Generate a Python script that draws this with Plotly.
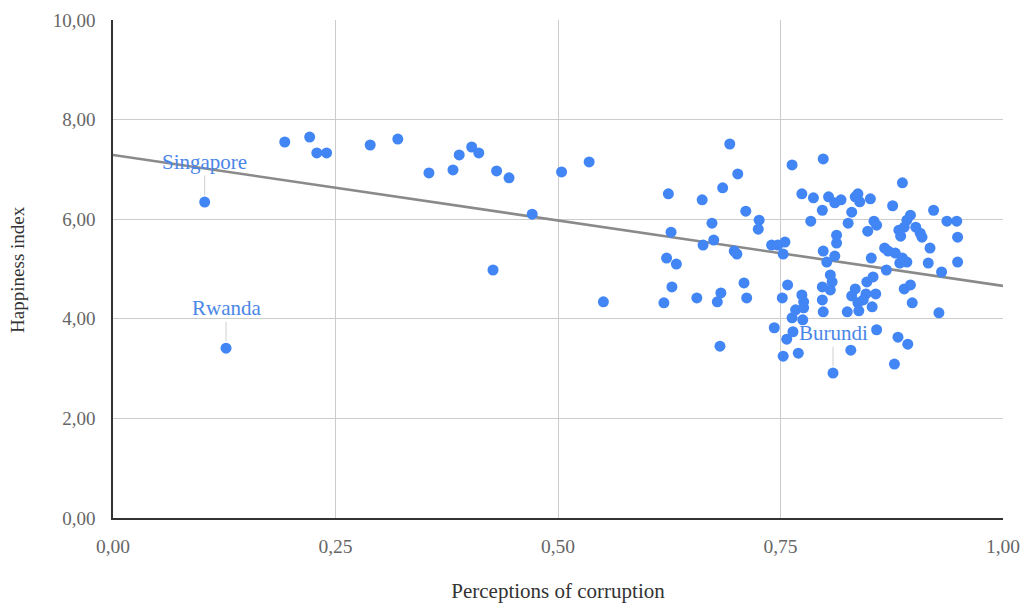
import plotly.graph_objects as go

# Perceptions of corruption (x) and happiness index (y)
corruption = [
    0.103, 0.127, 0.193, 0.221, 0.229, 0.240, 0.289, 0.320, 0.355, 0.382,
    0.389, 0.403, 0.411, 0.431, 0.445, 0.427, 0.471, 0.504, 0.535, 0.551,
    0.693, 0.702, 0.685, 0.624, 0.662, 0.711, 0.726, 0.725, 0.673, 0.627,
    0.675, 0.663, 0.698, 0.701, 0.622, 0.633, 0.709, 0.628, 0.619, 0.656,
    0.683, 0.679, 0.712, 0.743, 0.682,
    0.763, 0.798, 0.887, 0.774, 0.787, 0.804, 0.811, 0.818, 0.834, 0.837,
    0.839, 0.851, 0.797, 0.830, 0.826, 0.876, 0.896, 0.922, 0.784, 0.855,
    0.858, 0.848, 0.892, 0.889, 0.883, 0.885, 0.902, 0.907, 0.909, 0.937,
    0.948, 0.949, 0.813, 0.813, 0.740, 0.747, 0.755, 0.753, 0.798, 0.811,
    0.802, 0.852, 0.867, 0.871, 0.879, 0.887, 0.892, 0.884, 0.918, 0.916,
    0.931, 0.949, 0.869, 0.758, 0.752, 0.774, 0.776, 0.767, 0.776, 0.763,
    0.775, 0.806, 0.808, 0.797, 0.806, 0.797, 0.798, 0.825, 0.834, 0.830,
    0.837, 0.838, 0.847, 0.854, 0.846, 0.843, 0.857, 0.853, 0.889, 0.896,
    0.898, 0.928, 0.757, 0.764, 0.753, 0.770, 0.829, 0.858, 0.882, 0.893,
    0.878, 0.809,
]
happiness = [
    6.345, 3.41, 7.55, 7.65, 7.33, 7.33, 7.49, 7.61, 6.93, 6.99,
    7.29, 7.45, 7.33, 6.97, 6.83, 4.98, 6.10, 6.95, 7.15, 4.34,
    7.51, 6.91, 6.63, 6.51, 6.39, 6.16, 5.98, 5.80, 5.92, 5.74,
    5.58, 5.48, 5.36, 5.30, 5.22, 5.10, 4.72, 4.64, 4.32, 4.42,
    4.52, 4.34, 4.42, 3.82, 3.45,
    7.09, 7.21, 6.73, 6.51, 6.43, 6.45, 6.33, 6.39, 6.45, 6.51,
    6.35, 6.41, 6.18, 6.14, 5.92, 6.27, 6.08, 6.18, 5.96, 5.96,
    5.88, 5.76, 5.98, 5.84, 5.78, 5.66, 5.84, 5.72, 5.64, 5.96,
    5.96, 5.64, 5.68, 5.52, 5.48, 5.48, 5.54, 5.30, 5.36, 5.26,
    5.14, 5.22, 5.42, 5.36, 5.32, 5.22, 5.14, 5.12, 5.42, 5.12,
    4.94, 5.14, 4.98, 4.68, 4.42, 4.48, 4.34, 4.18, 4.22, 4.02,
    3.98, 4.88, 4.74, 4.64, 4.58, 4.38, 4.14, 4.14, 4.60, 4.46,
    4.32, 4.16, 4.74, 4.84, 4.50, 4.38, 4.50, 4.24, 4.60, 4.68,
    4.32, 4.12, 3.59, 3.74, 3.25, 3.31, 3.37, 3.78, 3.63, 3.49,
    3.09, 2.91,
]

# Labelled countries
label_names = ["Singapore", "Rwanda", "Burundi"]
label_x = [0.103, 0.127, 0.809]
label_y = [6.345, 3.41, 2.91]

# Trendline endpoints (as drawn in the source)
trend_x = [0.0, 1.0]
trend_y = [7.29, 4.66]

x_ticks = [0, 0.25, 0.5, 0.75, 1.0]
y_ticks = [0, 2, 4, 6, 8, 10]

SERIF = "Liberation Serif, Times New Roman, serif"
BLUE = "#4285F4"

fig = go.Figure()
fig.add_trace(go.Scatter(
    x=trend_x, y=trend_y, mode="lines",
    line=dict(color="#8a8a8a", width=2.6),
    hoverinfo="skip", showlegend=False,
))
fig.add_trace(go.Scatter(
    x=corruption, y=happiness, mode="markers",
    marker=dict(color=BLUE, size=11, line=dict(width=0)),
    showlegend=False,
))

for name, lx, ly in zip(label_names, label_x, label_y):
    fig.add_annotation(
        x=lx, y=ly, text=name, showarrow=True,
        ax=0, ay=-40, arrowhead=0, arrowwidth=1, arrowcolor="#d0d0d0",
        standoff=7,
        font=dict(family=SERIF, size=21, color="#4a86e8"),
    )

fig.add_annotation(
    text="Happiness index", textangle=-90,
    xref="paper", yref="paper", x=-0.108, y=0.5,
    xanchor="center", yanchor="middle", showarrow=False,
    font=dict(family=SERIF, size=19, color="#333333"),
)

fig.update_layout(
    width=1021, height=595,
    margin=dict(l=105, r=26, t=12, b=85, autoexpand=False),
    paper_bgcolor="white", plot_bgcolor="white",
    separators=",.",
    font=dict(family=SERIF, size=19, color="#555555"),
)
fig.update_xaxes(
    range=[0, 1], tickvals=x_ticks, tickformat=".2f",
    showgrid=True, gridcolor="#cccccc", gridwidth=1,
    showline=True, linecolor="#333333", linewidth=1.5,
    zeroline=False, ticks="", ticklabelstandoff=10, automargin=False,
    title=dict(text="Perceptions of corruption", standoff=28,
               font=dict(family=SERIF, size=21, color="#333333")),
    tickfont=dict(family=SERIF, size=19.5, color="#666666"),
)
fig.update_yaxes(
    range=[0, 10], tickvals=y_ticks, tickformat=".2f",
    showgrid=True, gridcolor="#cccccc", gridwidth=1,
    showline=True, linecolor="#333333", linewidth=1.5,
    zeroline=False, ticks="", ticklabelstandoff=12, automargin=False,
    tickfont=dict(family=SERIF, size=19, color="#666666"),
)

fig.write_html("out.html")
